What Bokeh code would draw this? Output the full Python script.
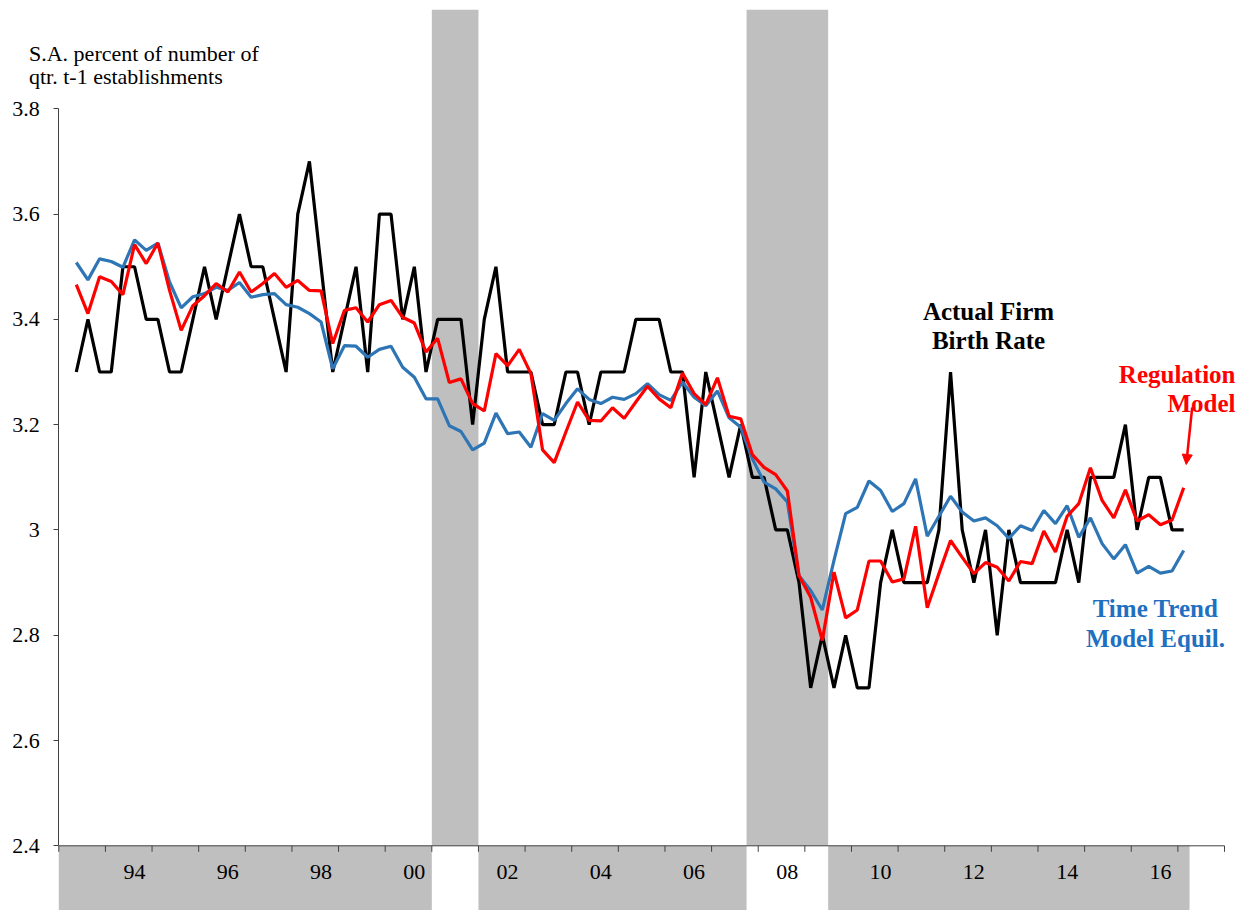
import numpy as np
from bokeh.plotting import figure
from bokeh.models import (Range1d, FixedTicker, CustomJSTickFormatter, Label,
                          Arrow, NormalHead, ColumnDataSource)
from bokeh.core.properties import value
from bokeh.embed import file_html
from bokeh.resources import INLINE

# ---------------- data ----------------
first_quarter = "1993Q2"   # first observation
actual = [3.3, 3.4, 3.3, 3.3, 3.5, 3.5, 3.4, 3.4, 3.3, 3.3, 3.4, 3.5, 3.4, 3.5, 3.6, 3.5,
          3.5, 3.4, 3.3, 3.6, 3.7, 3.5, 3.3, 3.4, 3.5, 3.3, 3.6, 3.6, 3.4, 3.5, 3.3, 3.4,
          3.4, 3.4, 3.2, 3.4, 3.5, 3.3, 3.3, 3.3, 3.2, 3.2, 3.3, 3.3, 3.2, 3.3, 3.3, 3.3,
          3.4, 3.4, 3.4, 3.3, 3.3, 3.1, 3.3, 3.2, 3.1, 3.2, 3.1, 3.1, 3.0, 3.0, 2.9, 2.7,
          2.8, 2.7, 2.8, 2.7, 2.7, 2.9, 3.0, 2.9, 2.9, 2.9, 3.0, 3.3, 3.0, 2.9, 3.0, 2.8,
          3.0, 2.9, 2.9, 2.9, 2.9, 3.0, 2.9, 3.1, 3.1, 3.1, 3.2, 3.0, 3.1, 3.1, 3.0, 3.0]
regulation = [3.466, 3.411, 3.481, 3.472, 3.447, 3.542, 3.506, 3.545, 3.455, 3.379, 3.426, 3.445,
              3.468, 3.452, 3.490, 3.452, 3.468, 3.487, 3.461, 3.474, 3.455, 3.454, 3.354, 3.417,
              3.422, 3.395, 3.428, 3.436, 3.404, 3.393, 3.338, 3.364, 3.280, 3.287, 3.240, 3.226,
              3.335, 3.312, 3.343, 3.297, 3.152, 3.128, 3.186, 3.243, 3.208, 3.207, 3.232, 3.212,
              3.243, 3.273, 3.249, 3.232, 3.298, 3.259, 3.238, 3.289, 3.216, 3.211, 3.143, 3.119,
              3.105, 3.074, 2.913, 2.872, 2.790, 2.920, 2.833, 2.848, 2.941, 2.941, 2.901, 2.907,
              3.007, 2.852, 2.917, 2.980, 2.948, 2.917, 2.938, 2.929, 2.903, 2.940, 2.936, 2.998,
              2.958, 3.026, 3.050, 3.118, 3.056, 3.023, 3.076, 3.017, 3.029, 3.010, 3.019, 3.080]
time_trend = [3.508, 3.475, 3.515, 3.510, 3.499, 3.551, 3.531, 3.545, 3.471, 3.422, 3.443, 3.449,
              3.461, 3.455, 3.470, 3.442, 3.447, 3.449, 3.428, 3.423, 3.411, 3.395, 3.306, 3.350,
              3.349, 3.328, 3.343, 3.349, 3.309, 3.290, 3.249, 3.249, 3.198, 3.187, 3.152, 3.165,
              3.222, 3.183, 3.186, 3.157, 3.221, 3.208, 3.240, 3.268, 3.248, 3.240, 3.252, 3.248,
              3.259, 3.278, 3.257, 3.246, 3.281, 3.252, 3.236, 3.264, 3.213, 3.195, 3.135, 3.091,
              3.078, 3.053, 2.913, 2.885, 2.848, 2.942, 3.031, 3.043, 3.093, 3.075, 3.035, 3.050,
              3.097, 2.988, 3.026, 3.064, 3.034, 3.017, 3.023, 3.008, 2.984, 3.008, 2.999, 3.037,
              3.012, 3.046, 2.986, 3.023, 2.974, 2.945, 2.972, 2.918, 2.931, 2.918, 2.922, 2.961]

recession_start = ["2001Q1", "2007Q4"]
recession_end = ["2001Q4", "2009Q2"]
axis_first = "1993Q1"
axis_last = "2017Q4"
shade_last = "2017Q1"
label_years = [1994, 1996, 1998, 2000, 2002, 2004, 2006, 2008, 2010, 2012, 2014, 2016]
year_labels = ["94", "96", "98", "00", "02", "04", "06", "08", "10", "12", "14", "16"]
y_ticks = [2.4, 2.6, 2.8, 3.0, 3.2, 3.4, 3.6, 3.8]
y_title = ["S.A. percent of number of", "qtr. t-1 establishments"]


def qidx(s):
    return (int(s[:4]) - int(axis_first[:4])) * 4 + int(s[5]) - 1


n_axis = qidx(axis_last) + 1          # 100 quarter slots on the category axis
start = qidx(first_quarter)
xs = [start + i + 0.5 for i in range(len(actual))]

Y_BASE = y_ticks[0]

# ---------------- layout ----------------
W, H = 1244, 910
MT = 9
PXX = 11.657                      # pixels per quarter
PXY = 526.43                      # pixels per unit of y
AXIS_X_PX = 58.3                  # page x of the value axis
AXIS_PX = 845.3                   # page y of the category axis line
Y_HI = Y_BASE + (AXIS_PX - MT) / PXY
Y_LO = Y_BASE - (H - AXIS_PX) / PXY
X_LO = -AXIS_X_PX / PXX
X_HI = (W - AXIS_X_PX) / PXX


def sx(px):   # page pixel -> screen units of a Label (frame relative)
    return px


def sy(py):
    return H - py


def yd(py):   # page pixel -> data y
    return Y_BASE + (AXIS_PX - py) / PXY


def xd(px):
    return (px - AXIS_X_PX) / PXX


SERIF = "Liberation Serif"
BLUE = "#2e75b6"
BLUE_T = "#1f70c0"
RED = "#ff0000"
GRAY = "#bfbfbf"
AX = "#404040"

p = figure(width=W, height=H, output_backend="svg", toolbar_location=None,
           x_range=Range1d(X_LO, X_HI), y_range=Range1d(Y_LO, Y_HI),
           x_axis_location=None, min_border_left=0, min_border_right=0,
           min_border_top=MT, min_border_bottom=0)
p.outline_line_color = None
p.grid.visible = False
p.background_fill_color = "white"
p.border_fill_color = "white"

# recession shading above axis
rl = [qidx(s) for s in recession_start]
rr = [qidx(e) + 1 for e in recession_end]
p.quad(left=rl, right=rr, bottom=Y_BASE, top=Y_HI, fill_color=GRAY, line_color=None)
# shading of the label band below axis (non-recession periods)
edges = [0] + [v for pair in zip(rl, rr) for v in pair] + [qidx(shade_last) + 1]
p.quad(left=edges[0::2], right=edges[1::2], bottom=Y_LO, top=Y_BASE,
       fill_color=GRAY, line_color=None)

# x axis line and ticks (category axis with one tick per year)
p.segment(x0=[0], x1=[n_axis], y0=[Y_BASE], y1=[Y_BASE], line_color=AX, line_width=1)
tick_x = list(range(0, n_axis + 1, 4))
tick_len = 6 / PXY
p.segment(x0=tick_x, x1=tick_x, y0=[Y_BASE] * len(tick_x),
          y1=[Y_BASE - tick_len] * len(tick_x), line_color=AX, line_width=1)
lab_x = [qidx(f"{y}Q3") + 0.5 for y in label_years]
p.text(x=lab_x, y=[yd(871)] * len(lab_x), text=year_labels, text_font=value(SERIF),
       text_font_size="22px", text_align="center", text_baseline="middle", text_color="black")

# series
src = ColumnDataSource(dict(x=xs, actual=actual, reg=regulation, tt=time_trend))
p.line("x", "actual", source=src, line_color="black", line_width=3.2)
p.line("x", "tt", source=src, line_color=BLUE, line_width=3.2)
p.line("x", "reg", source=src, line_color=RED, line_width=3.2)

# y axis, pinned at the start of the category axis
ya = p.yaxis[0]
ya.fixed_location = 0
ya.bounds = (y_ticks[0], y_ticks[-1])
ya.ticker = FixedTicker(ticks=y_ticks, minor_ticks=[])
ya.formatter = CustomJSTickFormatter(code="return Number(tick.toFixed(1)).toString();")
ya.axis_line_color = AX
ya.major_tick_line_color = AX
ya.major_tick_out = 5
ya.major_tick_in = 0
ya.minor_tick_out = 0
ya.minor_tick_in = 0
ya.major_label_standoff = 14
ya.major_label_text_font = SERIF
ya.major_label_text_font_size = "22px"
ya.major_label_text_color = "black"

# y axis title (two lines, top-left)
for txt, by in zip(y_title, [53, 76]):
    p.add_layout(Label(x=sx(28.5), y=sy(by), x_units="screen", y_units="screen", text=txt,
                       text_font=SERIF, text_font_size="22px", text_color="black",
                       text_align="left", text_baseline="alphabetic"))

# series annotations
ann = [
    ("Actual Firm", 988, 311, "center", "black"),
    ("Birth Rate", 988, 339.5, "center", "black"),
    ("Regulation", 1235, 374, "right", RED),
    ("Model", 1235, 403, "right", RED),
    ("Time Trend", 1155, 608, "center", BLUE_T),
    ("Model Equil.", 1155, 637.5, "center", BLUE_T),
]
for txt, px, py, al, col in ann:
    p.add_layout(Label(x=sx(px), y=sy(py), x_units="screen", y_units="screen", text=txt,
                       text_font=SERIF, text_font_size="25px", text_font_style="bold",
                       text_color=col, text_align=al, text_baseline="alphabetic"))

p.add_layout(Arrow(x_start=xd(1191.7), y_start=yd(407), x_end=xd(1185.7), y_end=yd(464),
                   line_color=RED, line_width=2.5,
                   end=NormalHead(size=10, fill_color=RED, line_color=RED, line_width=1)))

open("out.html", "w").write(file_html(p, INLINE))
